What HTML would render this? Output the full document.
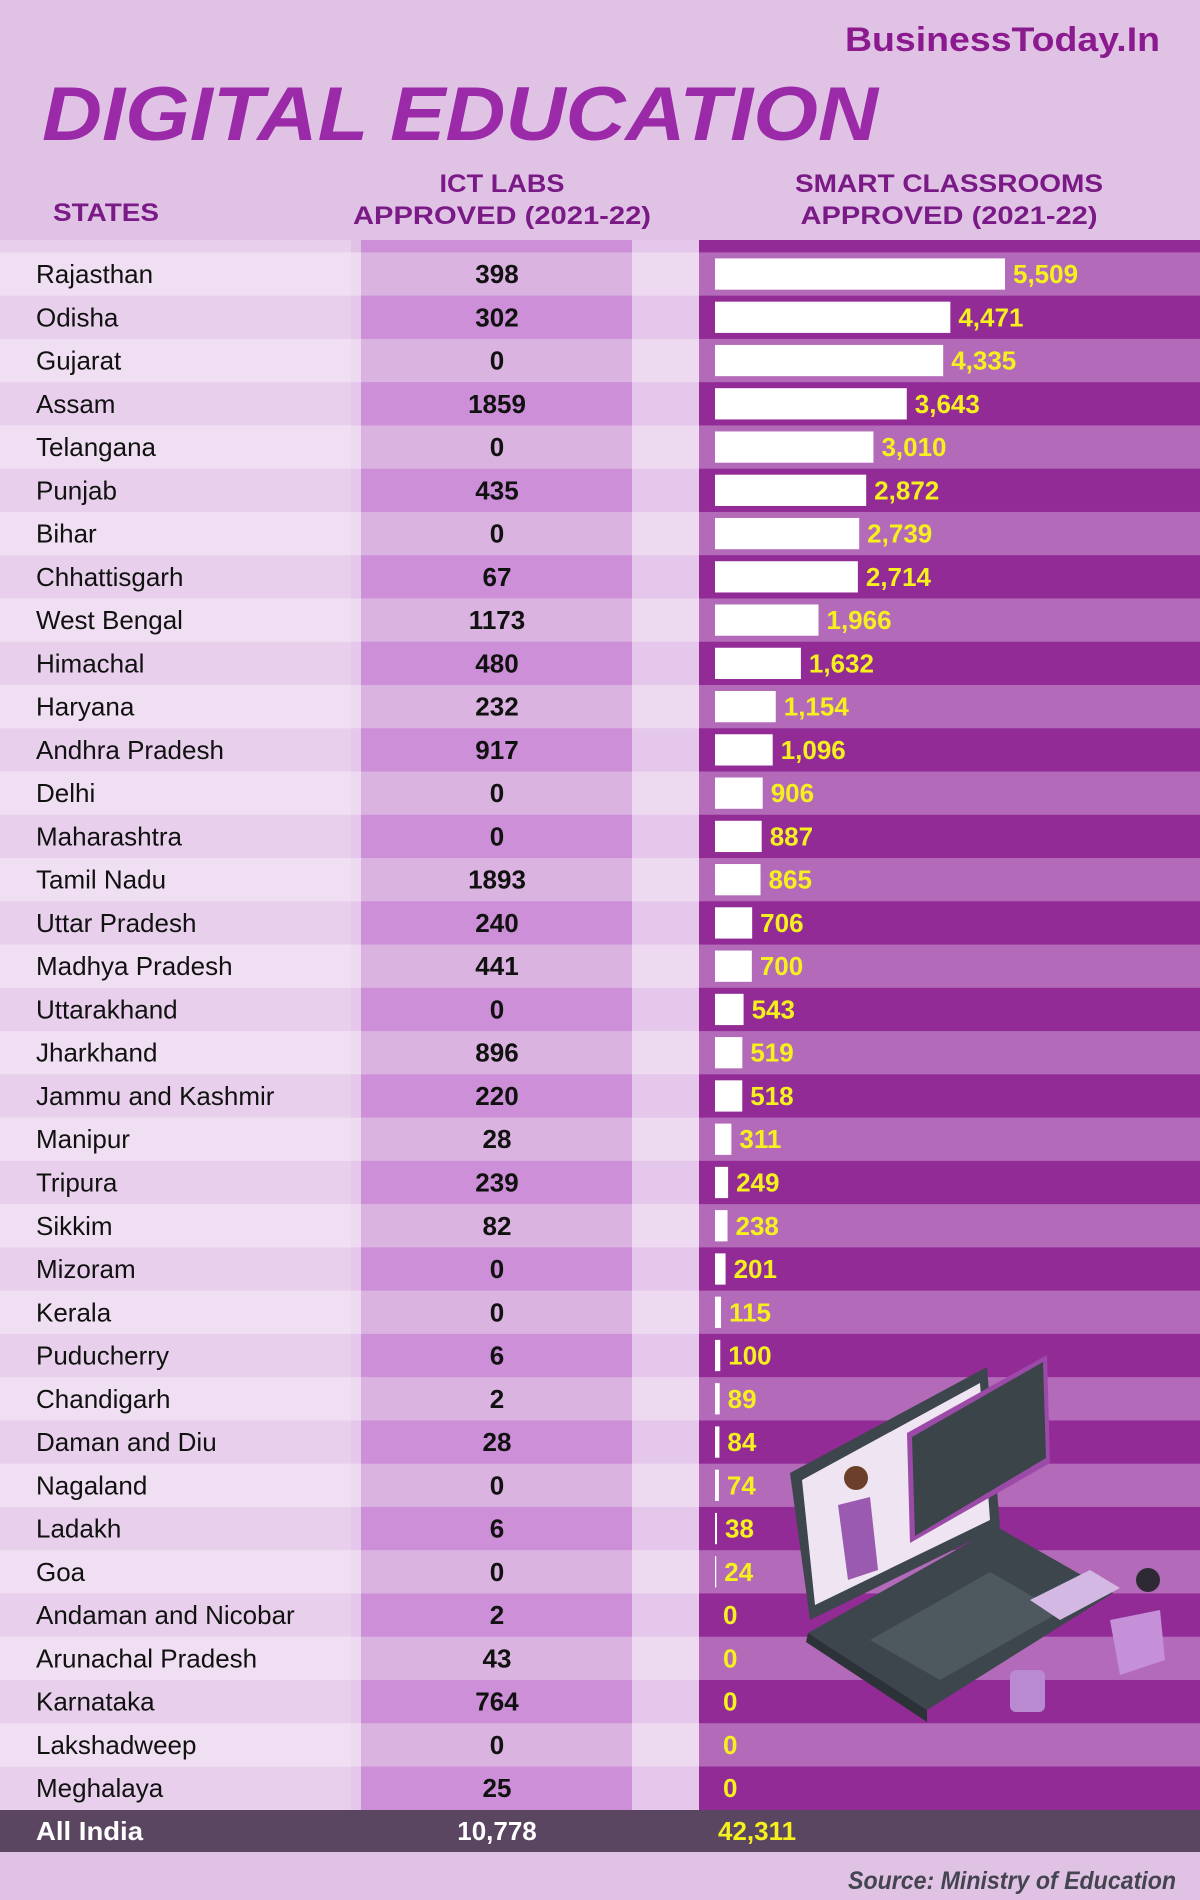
<!DOCTYPE html>
<html><head><meta charset="utf-8"><style>
html,body{margin:0;padding:0;background:#e0c3e4;}
svg{display:block;font-family:"Liberation Sans",sans-serif;}
</style></head><body>
<svg id="chart" width="1200" height="1900" viewBox="0 0 1200 1900" xmlns="http://www.w3.org/2000/svg">
<rect x="0" y="0" width="1200" height="1900" fill="#e0c3e4"/>
<text x="1160" y="51" text-anchor="end" font-size="34" font-weight="bold" fill="#8b1a8f" textLength="315" lengthAdjust="spacingAndGlyphs">BusinessToday.In</text>
<text x="42" y="140" font-size="76" font-weight="bold" font-style="italic" fill="#9b2aa8" textLength="836" lengthAdjust="spacingAndGlyphs">DIGITAL EDUCATION</text>
<text x="53" y="221" font-size="25" font-weight="bold" fill="#7a1a86" textLength="106" lengthAdjust="spacingAndGlyphs">STATES</text>
<text x="502" y="192" text-anchor="middle" font-size="25" font-weight="bold" fill="#7a1a86" textLength="125" lengthAdjust="spacingAndGlyphs">ICT LABS</text>
<text x="502" y="224" text-anchor="middle" font-size="25" font-weight="bold" fill="#7a1a86" textLength="298" lengthAdjust="spacingAndGlyphs">APPROVED (2021-22)</text>
<text x="949" y="192" text-anchor="middle" font-size="25" font-weight="bold" fill="#7a1a86" textLength="308" lengthAdjust="spacingAndGlyphs">SMART CLASSROOMS</text>
<text x="949" y="224" text-anchor="middle" font-size="25" font-weight="bold" fill="#7a1a86" textLength="297" lengthAdjust="spacingAndGlyphs">APPROVED (2021-22)</text>
<g id="rows"></g>
<g id="illus">
<polygon points="808,1633 997,1527 1113,1593 927,1710" fill="#3d464d"/>
<polygon points="808,1633 927,1710 927,1722 806,1642" fill="#2c3338"/>
<polygon points="870,1640 990,1572 1060,1612 940,1680" fill="#4d585f"/>
<polygon points="790,1473 987,1367 1000,1527 810,1620" fill="#3d464d"/>
<polygon points="802,1480 980,1383 990,1520 815,1605" fill="#efe4f2"/>
<polygon points="907,1433 1047,1355 1050,1463 910,1543" fill="#9b4aa8"/>
<polygon points="912,1437 1043,1362 1046,1458 915,1536" fill="#3b4549"/>
<polygon points="838,1505 870,1497 878,1570 848,1580" fill="#9a5ab0"/>
<circle cx="856" cy="1478" r="12" fill="#6b3f2a"/>
<polygon points="1030,1600 1090,1570 1120,1588 1060,1620" fill="#d4b8e4"/>
<polygon points="1110,1620 1160,1610 1165,1660 1120,1675" fill="#c690d8"/>
<circle cx="1148" cy="1580" r="12" fill="#2d2a35"/>
<rect x="1010" y="1670" width="35" height="42" rx="6" fill="#b98ad0"/>
</g>
<rect x="0" y="1810" width="1200" height="42" fill="#5a4660"/>
<text x="36" y="1840" font-size="26" font-weight="bold" fill="#ffffff" textLength="107" lengthAdjust="spacingAndGlyphs">All India</text>
<text x="497" y="1840" text-anchor="middle" font-size="26" font-weight="bold" fill="#ffffff">10,778</text>
<text x="718" y="1840" font-size="26" font-weight="bold" fill="#f5f01e">42,311</text>
<text x="1176" y="1889" text-anchor="end" font-size="25" font-weight="bold" font-style="italic" fill="#454552" textLength="328" lengthAdjust="spacingAndGlyphs">Source: Ministry of Education</text>
</svg>
<script>
const states = ["Rajasthan","Odisha","Gujarat","Assam","Telangana","Punjab","Bihar","Chhattisgarh","West Bengal","Himachal","Haryana","Andhra Pradesh","Delhi","Maharashtra","Tamil Nadu","Uttar Pradesh","Madhya Pradesh","Uttarakhand","Jharkhand","Jammu and Kashmir","Manipur","Tripura","Sikkim","Mizoram","Kerala","Puducherry","Chandigarh","Daman and Diu","Nagaland","Ladakh","Goa","Andaman and Nicobar","Arunachal Pradesh","Karnataka","Lakshadweep","Meghalaya"];
const ictLabs = [398,302,0,1859,0,435,0,67,1173,480,232,917,0,0,1893,240,441,0,896,220,28,239,82,0,0,6,2,28,0,6,0,2,43,764,0,25];
const smartClassrooms = [5509,4471,4335,3643,3010,2872,2739,2714,1966,1632,1154,1096,906,887,865,706,700,543,519,518,311,249,238,201,115,100,89,84,74,38,24,0,0,0,0,0];

const NS = "http://www.w3.org/2000/svg";
const g = document.getElementById('rows');
const top0 = 252.4, pitch = 43.26, barX = 715, scale = 290 / 5509;
function yRow(i){ return top0 + i * pitch; }
function xBar(v){ return v * scale; }
function mk(tag, attrs){ const e = document.createElementNS(NS, tag); for (const k in attrs) e.setAttribute(k, attrs[k]); return e; }

// header band
const hb = mk('g', {});


hb.appendChild(mk('rect', {x:0, y:240, width:351, height:13, fill:'#e8cfec'}));
hb.appendChild(mk('rect', {x:361, y:240, width:271, height:13, fill:'#cc8fd8'}));
hb.appendChild(mk('rect', {x:632, y:240, width:67, height:13, fill:'#e4c7ea'}));
hb.appendChild(mk('rect', {x:699, y:240, width:501, height:13, fill:'#922b96'}));
g.appendChild(hb);

states.forEach((s, i) => {
  const y = yRow(i), odd = i % 2 === 1;
  const row = mk('g', {});
  
  
  row.appendChild(mk('rect', {x:0, y:y, width:351, height:pitch+0.5, fill: odd ? '#e8d0ec' : '#f0dff2'}));
  row.appendChild(mk('rect', {x:351, y:y, width:10, height:pitch+0.5, fill: odd ? '#e4c7ea' : '#eddaf0'}));
  row.appendChild(mk('rect', {x:361, y:y, width:271, height:pitch+0.5, fill: odd ? '#cc8fd8' : '#dab3e0'}));
  row.appendChild(mk('rect', {x:632, y:y, width:67, height:pitch+0.5, fill: odd ? '#e4c7ea' : '#eddaf0'}));
  row.appendChild(mk('rect', {x:699, y:y, width:501, height:pitch+0.5, fill: odd ? '#922b96' : '#b36ab8'}));
  const cy = y + pitch/2 + 9;
  const name = mk('text', {x:36, y:cy, 'font-size':26, fill:'#111'});
  
  
  name.textContent = s; row.appendChild(name);
  const ict = mk('text', {x:497, y:cy, 'text-anchor':'middle', 'font-size':26, 'font-weight':'bold', fill:'#111'});
  
  
  ict.textContent = ictLabs[i]; row.appendChild(ict);
  const w = xBar(smartClassrooms[i]);
  if (w > 0) {
    const bar = mk('rect', {x:barX, y:y+6, width:w, height:pitch-12, fill:'#ffffff'});
    
    
    row.appendChild(bar);
  }
  const lbl = mk('text', {x:barX + w + 8, y:cy, 'font-size':26, 'font-weight':'bold', fill:'#f5f01e'});
  
  
  lbl.textContent = smartClassrooms[i].toLocaleString('en-US'); row.appendChild(lbl);
  g.appendChild(row);
});
</script>
</body></html>
